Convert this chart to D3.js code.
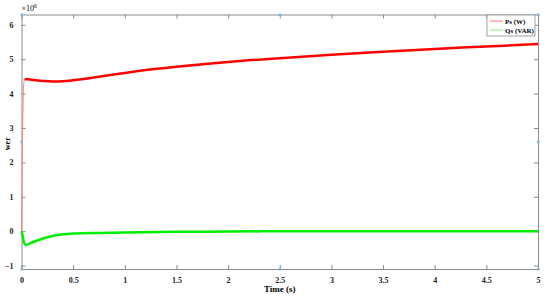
<!DOCTYPE html>
<html>
<head>
<meta charset="utf-8">
<script src="https://cdn.jsdelivr.net/npm/d3@7"></script>
<style>
  body { margin: 0; background: #fff; }
  text { font-family: "Liberation Serif", "Times New Roman", serif; font-weight: bold; }
</style>
</head>
<body>
<div id="chart"></div>
<script>
// time samples (s) and values (x10^6)
const psTime = [0, 0.004, 0.012, 0.02, 0.03, 0.06, 0.1, 0.2, 0.3, 0.4, 0.5, 0.75, 1, 1.25, 1.5, 2, 2.5, 3, 3.5, 4, 4.5, 5];
const psVals = [0, 1.2, 3.2, 4.2, 4.42, 4.42, 4.40, 4.37, 4.35, 4.36, 4.39, 4.49, 4.60, 4.70, 4.78, 4.92, 5.03, 5.13, 5.22, 5.30, 5.37, 5.44];
const qsTime = [0, 0.01, 0.02, 0.04, 0.1, 0.2, 0.3, 0.5, 0.75, 1, 1.5, 2, 3, 4, 5];
const qsVals = [0, -0.12, -0.28, -0.40, -0.33, -0.22, -0.14, -0.07, -0.05, -0.04, -0.02, -0.01, 0, 0, 0];
const xTicks = [0, 0.5, 1, 1.5, 2, 2.5, 3, 3.5, 4, 4.5, 5];
const yTicks = [-1, 0, 1, 2, 3, 4, 5, 6];
const legendLabels = ['Ps (W)', 'Qs (VAR)'];
const colors = ['#ff0000', '#00ee00'];

const width = 550, height = 296;
const margin = { top: 14.5, right: 12, bottom: 27, left: 21.5 };
const w = width - margin.left - margin.right;
const h = height - margin.top - margin.bottom;

const svg = d3.select('#chart').append('svg')
    .attr('width', width)
    .attr('height', height);

const g = svg.append('g')
    .attr('transform', 'translate(' + margin.left + ',' + margin.top + ')');

const x = d3.scaleLinear().domain([0, 5]).range([0, w]);
const y = d3.scaleLinear().domain([-1.1, 6.3]).range([h, 0]);

const axisColor = '#8c8c8c';

// axes with inward ticks, box style
const styleAxis = sel => {
    sel.select('.domain').attr('stroke', axisColor);
    sel.selectAll('.tick line').attr('stroke', axisColor);
    sel.selectAll('.tick text').attr('fill', '#222').style('font-size', '8px');
};

g.append('g')
    .attr('transform', 'translate(0,' + h + ')')
    .call(d3.axisBottom(x).tickValues(xTicks).tickSizeInner(-4).tickSizeOuter(0).tickPadding(8).tickFormat(d3.format('')))
    .call(styleAxis);
g.append('g')
    .call(d3.axisTop(x).tickValues(xTicks).tickSizeInner(-4).tickSizeOuter(0).tickFormat(''))
    .call(styleAxis);
g.append('g')
    .call(d3.axisLeft(y).tickValues(yTicks).tickSizeInner(-4).tickSizeOuter(0).tickPadding(8))
    .call(styleAxis);
g.append('g')
    .attr('transform', 'translate(' + w + ',0)')
    .call(d3.axisRight(y).tickValues(yTicks).tickSizeInner(-4).tickSizeOuter(0).tickFormat(''))
    .call(styleAxis);

// lines
const line = d3.line()
    .x(d => x(d[0]))
    .y(d => y(d[1]))
    .curve(d3.curveMonotoneX);

const qsData = qsTime.map((t, i) => [t, qsVals[i]]);
const psData = psTime.map((t, i) => [t, psVals[i]]);

g.append('path')
    .datum(qsData)
    .attr('fill', 'none')
    .attr('stroke', colors[1])
    .attr('stroke-width', 2.5)
    .attr('d', line);

// initial fast transient drawn thin
g.append('path')
    .datum(psData.slice(0, 5))
    .attr('fill', 'none')
    .attr('stroke', '#ff8080')
    .attr('stroke-width', 1)
    .attr('d', line);

g.append('path')
    .datum(psData.slice(4))
    .attr('fill', 'none')
    .attr('stroke', colors[0])
    .attr('stroke-width', 2.5)
    .attr('d', line);

// selection handles
const handles = [[0, 6.3], [2.5, 6.3], [5, 6.3], [0, 2.6], [5, 2.6], [0, -1.1], [2.5, -1.1], [5, -1.1]];
g.selectAll('.handle')
    .data(handles)
    .enter().append('rect')
    .attr('x', d => x(d[0]) - 1)
    .attr('y', d => y(d[1]) - 1)
    .attr('width', 2.5)
    .attr('height', 2.5)
    .attr('fill', '#7fb2e0');

// labels
svg.append('text')
    .attr('x', margin.left + w / 2)
    .attr('y', height - 4)
    .attr('text-anchor', 'middle')
    .style('font-size', '9px')
    .text('Time (s)');

svg.append('text')
    .attr('transform', 'translate(10,' + (margin.top + h / 2 + 2) + ') rotate(-90)')
    .attr('text-anchor', 'middle')
    .style('font-size', '8px')
    .text('wer');

const exp = svg.append('text')
    .attr('x', margin.left)
    .attr('y', 11)
    .style('font-size', '8px')
    .style('font-weight', 'normal');
exp.append('tspan').text('\u00d710');
exp.append('tspan').attr('dy', -3).style('font-size', '5.5px').text('6');

// legend
const legend = svg.append('g').attr('transform', 'translate(487,15)');
legend.append('rect')
    .attr('width', 48)
    .attr('height', 21)
    .attr('fill', '#fff')
    .attr('stroke', axisColor)
    .attr('stroke-width', 0.8);
legendLabels.forEach((lab, i) => {
    legend.append('line')
        .attr('x1', 3).attr('x2', 16)
        .attr('y1', 6 + i * 9).attr('y2', 6 + i * 9)
        .attr('stroke', colors[i])
        .attr('stroke-opacity', 0.5)
        .attr('stroke-width', 1);
    legend.append('text')
        .attr('x', 18)
        .attr('y', 8.5 + i * 9)
        .style('font-size', '7px')
        .text(lab);
});
</script>
</body>
</html>
